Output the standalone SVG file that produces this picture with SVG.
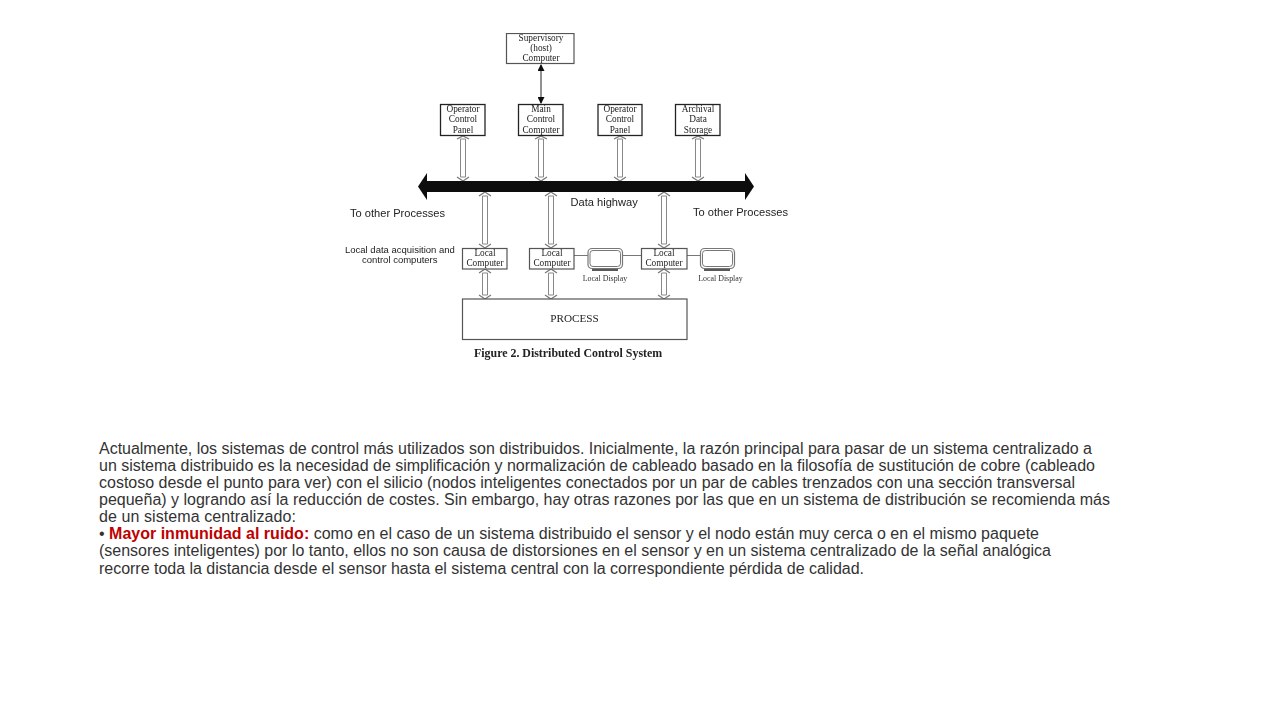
<svg xmlns="http://www.w3.org/2000/svg" width="1280" height="720" viewBox="0 0 1280 720">
<style>
.box{fill:#fff;stroke:#555;stroke-width:1.2}
.boxd{fill:#fff;stroke:#222;stroke-width:1.3}
.s{font-family:"Liberation Serif",serif;font-size:9.3px;fill:#222;text-anchor:middle}
.a{font-family:"Liberation Sans",Arial,sans-serif;font-size:11.1px;fill:#222}
.b{font-family:"Liberation Sans",Arial,sans-serif;font-size:9.5px;fill:#222}
.d{font-family:"Liberation Serif",serif;font-size:7.9px;fill:#333;text-anchor:middle}
.t{font-family:"Liberation Sans",Arial,sans-serif;font-size:16px;fill:#333}
.r{font-weight:bold;fill:#c00000}
.dbl{fill:#fff;stroke:#888;stroke-width:1}
.link{stroke:#777;stroke-width:1.2;fill:none}
</style>
<defs>
<filter id="soft" x="0" y="0" width="100%" height="100%"><feGaussianBlur stdDeviation="0.3"/></filter>
<marker id="tri" markerWidth="7" markerHeight="7" refX="6" refY="3.500" orient="auto-start-reverse" markerUnits="userSpaceOnUse"><path d="M0 0L7 3.500L0 7Z" fill="#111"/></marker>
</defs>
<g filter="url(#soft)">
<g id="connectors">
<line x1="541" y1="65" x2="541" y2="103" stroke="#222" stroke-width="1" marker-start="url(#tri)" marker-end="url(#tri)"/>
<g id="upper-links">
<path class="dbl" d="M460.500 139H465.500V177H460.500Z"/><path class="link" d="M457 139L463 136L469 139M457 177L463 181L469 177"/>
<path class="dbl" d="M538.500 139H543.500V177H538.500Z"/><path class="link" d="M535 139L541 136L547 139M535 177L541 181L547 177"/>
<path class="dbl" d="M617.500 139H622.500V177H617.500Z"/><path class="link" d="M614 139L620 136L626 139M614 177L620 181L626 177"/>
<path class="dbl" d="M695.500 139H700.500V177H695.500Z"/><path class="link" d="M692 139L698 136L704 139M692 177L698 181L704 177"/>
</g>
<g id="lower-links">
<path class="dbl" d="M482.500 196H487.500V244H482.500Z"/><path class="link" d="M479 196L485 192L491 196M479 244L485 248L491 244"/>
<path class="dbl" d="M548.500 196H553.500V244H548.500Z"/><path class="link" d="M545 196L551 192L557 196M545 244L551 248L557 244"/>
<path class="dbl" d="M661.500 196H666.500V244H661.500Z"/><path class="link" d="M658 196L664 192L670 196M658 244L664 248L670 244"/>
<path class="dbl" d="M482.500 273H487.500V295H482.500Z"/><path class="link" d="M479 273L485 269L491 273M479 295L485 299L491 295"/>
<path class="dbl" d="M548.500 273H553.500V295H548.500Z"/><path class="link" d="M545 273L551 269L557 273M545 295L551 299L557 295"/>
<path class="dbl" d="M661.500 273H666.500V295H661.500Z"/><path class="link" d="M658 273L664 269L670 273M658 295L664 299L670 295"/>
</g>
<path class="link" d="M574 255.500H588M622 255.500H641M687 255.500H700"/>
</g>
<g id="data-highway">
<path d="M418 186.500L427 173V181H745V173L754 186.500L745 200V192H427V200Z" fill="#111"/>
<text class="a" x="570.500" y="206">Data highway</text>
</g>
<text class="a" x="350" y="216.500">To other Processes</text>
<text class="a" x="693" y="216">To other Processes</text>
<text class="b" x="345" y="253">Local data acquisition and</text>
<text class="b" x="362" y="263">control computers</text>
<g id="supervisory"><rect class="box" x="506.500" y="33.500" width="67.500" height="30"/><text class="s" x="541" y="41">Supervisory</text><text class="s" x="541" y="51">(host)</text><text class="s" x="541" y="61">Computer</text></g>
<g id="op-panel-1"><rect class="boxd" x="440.500" y="104.500" width="44.500" height="31"/><text class="s" x="463" y="112">Operator</text><text class="s" x="463" y="122">Control</text><text class="s" x="463" y="133">Panel</text></g>
<g id="main-control"><rect class="boxd" x="518.500" y="104.500" width="44.500" height="31"/><text class="s" x="541" y="112">Main</text><text class="s" x="541" y="122">Control</text><text class="s" x="541" y="133">Computer</text></g>
<g id="op-panel-2"><rect class="boxd" x="598" y="104.500" width="44" height="31"/><text class="s" x="620" y="112">Operator</text><text class="s" x="620" y="122">Control</text><text class="s" x="620" y="133">Panel</text></g>
<g id="archival"><rect class="boxd" x="675.500" y="104.500" width="44.500" height="31"/><text class="s" x="698" y="112">Archival</text><text class="s" x="698" y="122">Data</text><text class="s" x="698" y="133">Storage</text></g>
<g id="local-1"><rect class="box" x="462.500" y="248.500" width="44.500" height="20.500"/><text class="s" x="485" y="256">Local</text><text class="s" x="485" y="266">Computer</text></g>
<g id="local-2"><rect class="box" x="529.500" y="248.500" width="44.500" height="20.500"/><text class="s" x="552" y="256">Local</text><text class="s" x="552" y="266">Computer</text></g>
<g id="local-3"><rect class="box" x="641.500" y="248.500" width="45.500" height="20.500"/><text class="s" x="664" y="256">Local</text><text class="s" x="664" y="266">Computer</text></g>
<g id="display-1"><rect x="588" y="248.500" width="34.500" height="20" rx="4" fill="#fff" stroke="#777" stroke-width="1.200"/><rect x="590" y="250.500" width="30.500" height="16" rx="3" fill="#fff" stroke="#555" stroke-width=".8"/><path d="M592 270H618" stroke="#222" stroke-width="1.500"/><text class="d" x="605" y="280.500">Local Display</text></g>
<g id="display-2"><rect x="700.500" y="248.500" width="34" height="20" rx="4" fill="#fff" stroke="#777" stroke-width="1.200"/><rect x="702.500" y="250.500" width="30" height="16" rx="3" fill="#fff" stroke="#555" stroke-width=".8"/><path d="M704 270H730" stroke="#222" stroke-width="1.500"/><text class="d" x="720.500" y="280.500">Local Display</text></g>
<g id="process"><rect class="box" x="462.500" y="299" width="224.500" height="40.500"/><text class="s" x="574.500" y="322" style="font-size:11.200px">PROCESS</text></g>
<text x="474" y="356.500" font-family="Liberation Serif,serif" font-weight="bold" font-size="11.900" fill="#222">Figure 2. Distributed Control System</text>
</g>
<g id="body-text">
<text class="t" x="99" y="454" textLength="993">Actualmente, los sistemas de control más utilizados son distribuidos. Inicialmente, la razón principal para pasar de un sistema centralizado a</text>
<text class="t" x="99" y="471" textLength="996">un sistema distribuido es la necesidad de simplificación y normalización de cableado basado en la filosofía de sustitución de cobre (cableado</text>
<text class="t" x="99" y="488" textLength="976">costoso desde el punto para ver) con el silicio (nodos inteligentes conectados por un par de cables trenzados con una sección transversal</text>
<text class="t" x="99" y="505" textLength="1011">pequeña) y logrando así la reducción de costes. Sin embargo, hay otras razones por las que en un sistema de distribución se recomienda más</text>
<text class="t" x="99" y="522" textLength="197">de un sistema centralizado:</text>
<text class="t" x="99" y="539" textLength="940">• <tspan class="r">Mayor inmunidad al ruido:</tspan> como en el caso de un sistema distribuido el sensor y el nodo están muy cerca o en el mismo paquete</text>
<text class="t" x="99" y="556" textLength="952">(sensores inteligentes) por lo tanto, ellos no son causa de distorsiones en el sensor y en un sistema centralizado de la señal analógica</text>
<text class="t" x="99" y="574" textLength="765">recorre toda la distancia desde el sensor hasta el sistema central con la correspondiente pérdida de calidad.</text>
</g>
</svg>
